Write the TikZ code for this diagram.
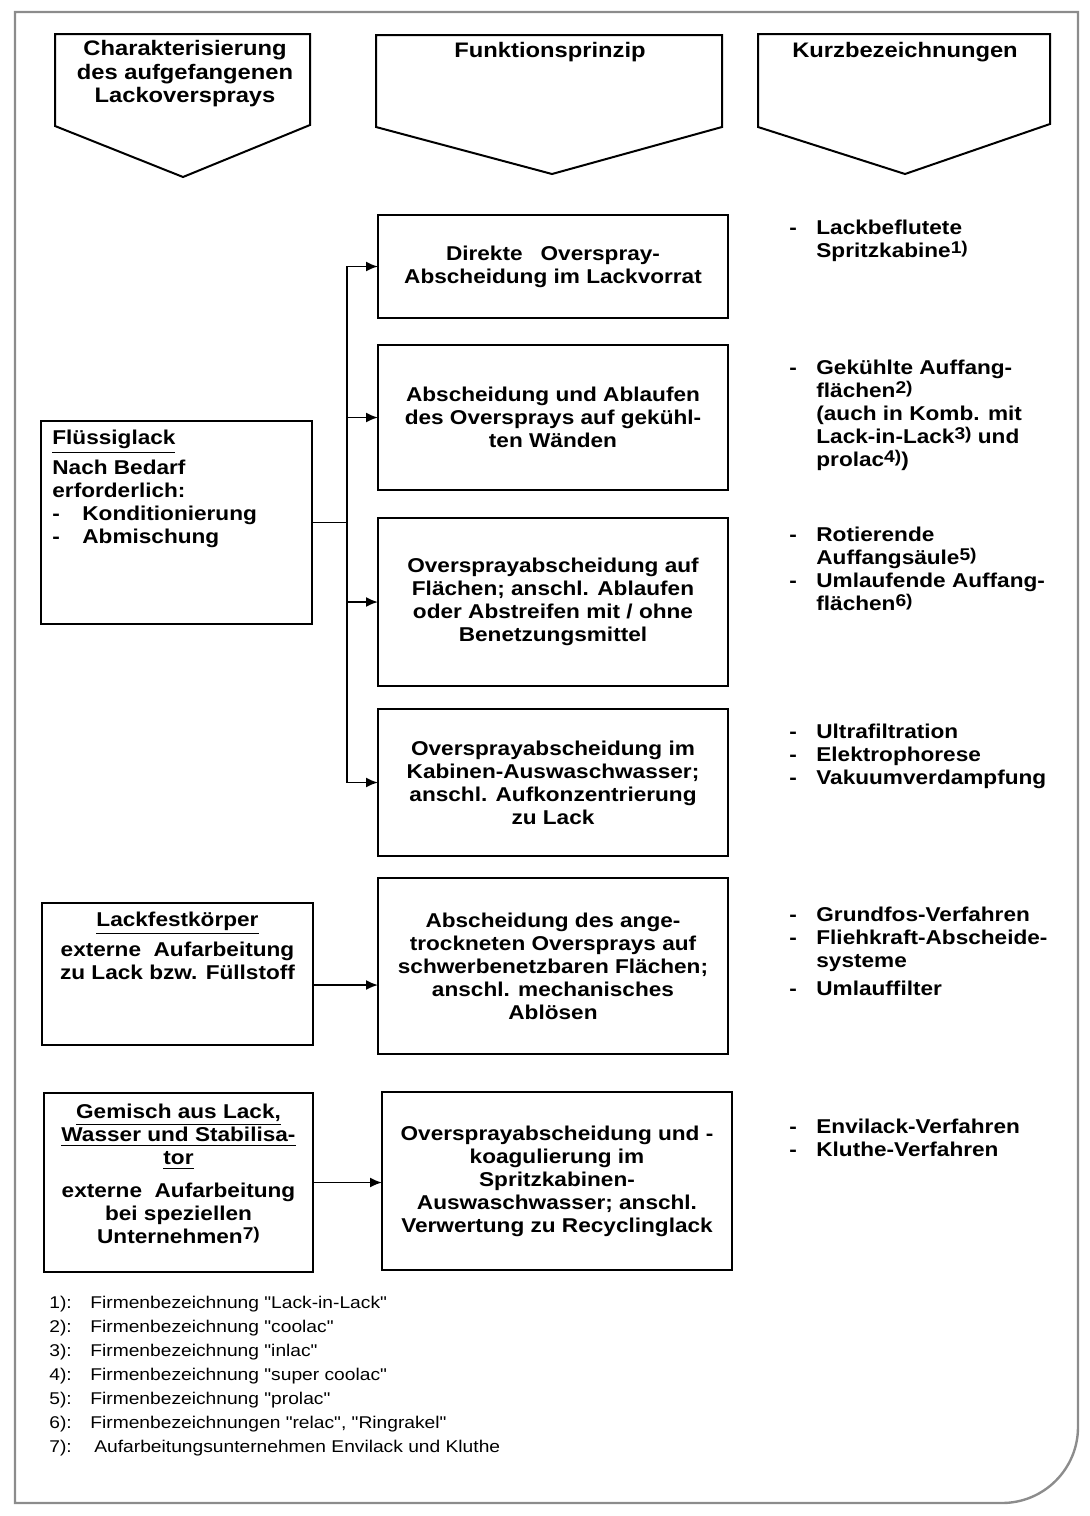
\documentclass[tikz,border=0pt]{standalone}
\usepackage{fontspec}
\setmainfont{Liberation Sans}[FakeStretch=1.13]
\newfontfamily\notefamily{Liberation Sans}[FakeStretch=1.13, Ligatures=TeXOff]
\usepackage{tikz}
\newcommand*{\fnm}[1]{\raisebox{0.45ex}{\fontsize{8.5}{8.5}\selectfont\bfseries #1}}
\newcommand*{\li}{\makebox[13.5pt][l]{-}}
\newcommand*{\lii}{\hspace*{13.5pt}}
\newcommand*{\hdfont}{\fontsize{10.5}{11.75}\selectfont\bfseries}
\newcommand*{\bdfont}{\fontsize{10}{11.5}\selectfont\bfseries}
\newcommand*{\ntfont}{\notefamily\fontsize{8.5}{12}\selectfont}
\definecolor{framegray}{RGB}{140,140,140}
\usetikzlibrary{arrows.meta, positioning}
\tikzstyle{block} = [draw, line width=1pt, rectangle, inner sep=0pt, outer sep=0pt]
\tikzstyle{box} = [block, minimum width=175pt, align=center, font=\bdfont]
\tikzstyle{frame} = [draw=framegray, line width=1.2pt]
\tikzstyle{head} = [line width=1pt, line join=miter]
\tikzstyle{inside} = [inner sep=0pt, font=\bdfont]
\tikzstyle{link} = [-{Latex[length=6pt, width=5pt]}, line width=0.9pt]
\tikzstyle{note} = [inner sep=0pt, anchor=north west, align=left, font=\ntfont]
\tikzstyle{short} = [inner sep=0pt, anchor=north west, align=left, font=\bdfont]
\tikzstyle{title} = [inner sep=0pt, anchor=north, align=center, font=\hdfont]
\tikzstyle{wire} = [line width=0.9pt]
\begin{document}
\begin{tikzpicture}[x=0.5pt, y=-0.5pt, node distance=12pt]
    \useasboundingbox (0,0) rectangle (1089,1516);
    \draw [frame] (15,12) -- (1078,12) -- (1078,1000) [rounded corners=38pt] -- (1078,1503) -- (500,1503) [sharp corners] -- (15,1503) -- cycle;

    % Headers.
    \draw [head] (55,34) -- (310,34) -- (310,125) -- (183,177) -- (55,126) -- cycle;
    \draw [head] (376,35) -- (722,35) -- (722,127) -- (552,174) -- (376,127) -- cycle;
    \draw [head] (758,34) -- (1050,34) -- (1050,124) -- (905,174) -- (758,127) -- cycle;
    \node (char) [title] at (185,40) {Charakterisierung\\des aufgefangenen\\Lackoversprays};
    \node (prinzip) [title] at (550,42) {Funktionsprinzip};
    \node (kurz) [title] at (905,42) {Kurzbezeichnungen};

    % Left column.
    \node (fluessig) [block, minimum width=135.5pt, minimum height=101.5pt, anchor=north west] at (41,421) {};
    \node (fluessig text) [inside, align=left, below right=4.5pt and 5.5pt of fluessig.north west] {\underline{Flüssiglack}\\[3.5pt]Nach Bedarf\\erforderlich:\\\makebox[15pt][l]{-}Konditionierung\\\makebox[15pt][l]{-}Abmischung};
    \node (festkoerper) [block, minimum width=135.5pt, minimum height=71pt, anchor=north west] at (42,903) {};
    \node (festkoerper text) [inside, align=center, below=4.5pt of festkoerper.north] {\underline{Lackfestkörper}\\[3.5pt]externe\ \ Aufarbeitung\\zu Lack bzw. Füllstoff};
    \node (gemisch) [block, minimum width=134.5pt, minimum height=89.5pt, anchor=north west] at (44,1093) {};
    \node (gemisch text) [inside, align=center, below=5.5pt of gemisch.north] {\underline{Gemisch aus Lack,}\\\underline{Wasser und Stabilisa-}\\\underline{tor}\\[5pt]externe\ \ Aufarbeitung\\bei speziellen\\Unternehmen\fnm{7)}};

    % Middle column.
    \node (direkt) [box, minimum height=51.5pt, anchor=north west] at (378,215) {Direkte\hspace{9pt}Overspray-\\Abscheidung im Lackvorrat};
    \node (gekuehlt) [box, minimum height=72.5pt, below=13.5pt of direkt] {Abscheidung und Ablaufen\\des Oversprays auf gekühl-\\ten Wänden};
    \node (flaechen) [box, minimum height=84pt, below=14pt of gekuehlt] {Oversprayabscheidung auf\\Flächen; anschl. Ablaufen\\oder Abstreifen mit / ohne\\Benetzungsmittel};
    \node (auswasch) [box, minimum height=73.5pt, below=11.5pt of flaechen] {Oversprayabscheidung im\\Kabinen-Auswaschwasser;\\anschl. Aufkonzentrierung\\zu Lack};
    \node (trocken) [box, minimum height=88pt, below=11pt of auswasch] {Abscheidung des ange-\\trockneten Oversprays auf\\schwerbenetzbaren Flächen;\\anschl. mechanisches\\Ablösen};
    \node (koagul) [box, minimum height=89pt, below=19pt of trocken, xshift=2pt] {Oversprayabscheidung und -\\koagulierung im\\Spritzkabinen-\\Auswaschwasser; anschl.\\Verwertung zu Recyclinglack};

    % Right column.
    \node (k direkt) [short] at (789,220) {\li Lackbeflutete\\\lii Spritzkabine\fnm{1)}};
    \node (k gekuehlt) [short] at (789,360) {\li Gekühlte Auffang-\\\lii flächen\fnm{2)}\\\lii (auch in Komb. mit\\\lii Lack-in-Lack\fnm{3)} und\\\lii prolac\fnm{4)})};
    \node (k flaechen) [short] at (789,527) {\li Rotierende\\\lii Auffangsäule\fnm{5)}\\\li Umlaufende Auffang-\\\lii flächen\fnm{6)}};
    \node (k auswasch) [short] at (789,724) {\li Ultrafiltration\\\li Elektrophorese\\\li Vakuumverdampfung};
    \node (k trocken) [short] at (789,907) {\li Grundfos-Verfahren\\\li Fliehkraft-Abscheide-\\\lii systeme\\[2.5pt]\li Umlauffilter};
    \node (k koagul) [short] at (789,1119) {\li Envilack-Verfahren\\\li Kluthe-Verfahren};

    % Footnotes.
    \node (notes) [note] at (49,1296) {\makebox[20.5pt][l]{1):}Firmenbezeichnung "Lack-in-Lack"\\
        \makebox[20.5pt][l]{2):}Firmenbezeichnung "coolac"\\
        \makebox[20.5pt][l]{3):}Firmenbezeichnung "inlac"\\
        \makebox[20.5pt][l]{4):}Firmenbezeichnung "super coolac"\\
        \makebox[20.5pt][l]{5):}Firmenbezeichnung "prolac"\\
        \makebox[20.5pt][l]{6):}Firmenbezeichnungen "relac", "Ringrakel"\\
        \makebox[22.5pt][l]{7):}Aufarbeitungsunternehmen Envilack und Kluthe};

    % Fork.
    \coordinate (trunk) at (347,267);
    \draw [link] (trunk |- auswasch.west) -- (trunk |- direkt.west) -- (direkt.west);
    \draw [link] (trunk |- direkt.west) -- (trunk |- auswasch.west) -- (auswasch.west);
    \foreach \n in {gekuehlt, flaechen} {
        \draw [link] (trunk |- \n.west) -- (\n.west);
    }
    \draw [wire] (fluessig.east) -- (fluessig.east -| trunk);

    % Arrows.
    \coordinate (fest out) at ([yshift=-5.5pt]festkoerper.east);
    \draw [link] (fest out) -- (fest out -| trocken.west);
    \draw [link] (gemisch.east) -- (gemisch.east -| koagul.west);
\end{tikzpicture}
\end{document}
